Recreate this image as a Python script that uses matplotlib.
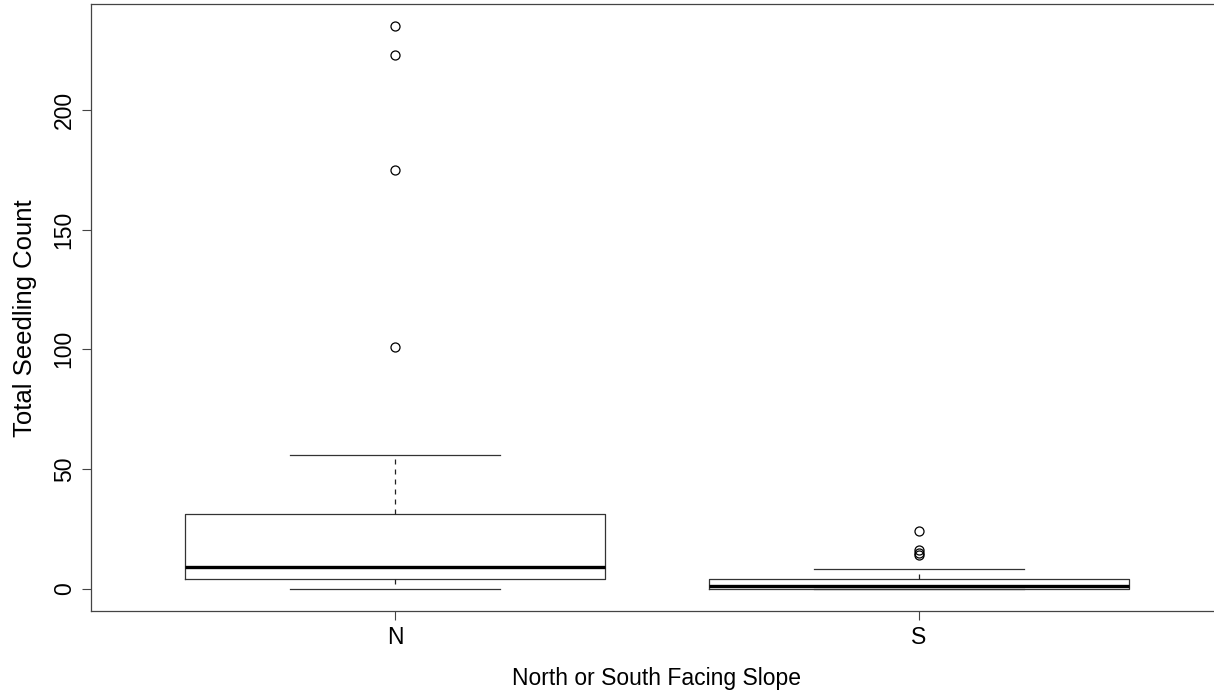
import matplotlib
matplotlib.use("Agg")
import matplotlib.pyplot as plt

plt.rcParams['font.family'] = ['Liberation Sans', 'DejaVu Sans']

# values
groups = ['N', 'S']
whislo = [0, 0]
q1 = [4, 0]
medians = [9, 1]
q3 = [31, 4]
whishi = [56, 8]
fliers = [[101, 175, 223, 235], [14, 15, 16, 24]]
yticks = [0, 50, 100, 150, 200]


def main():
    fig = plt.figure(figsize=(12.14, 6.92), dpi=100)
    ax = fig.add_axes([91 / 1214, 81 / 692, 1132 / 1214, 607 / 692])

    stats = []
    for i in range(len(groups)):
        stats.append({'label': groups[i], 'whislo': whislo[i], 'q1': q1[i],
                      'med': medians[i], 'q3': q3[i], 'whishi': whishi[i],
                      'fliers': fliers[i]})

    line = dict(color='#333333', linewidth=0.9)
    ax.bxp(stats, positions=[1, 2], widths=0.8, showfliers=True,
           boxprops=line,
           whiskerprops=dict(color='#222222', linewidth=0.9, linestyle=(0, (4, 4))),
           capprops=line,
           medianprops=dict(color='black', linewidth=2.4, solid_capstyle='butt'),
           flierprops=dict(marker='o', markerfacecolor='none', markeredgecolor='black',
                           markersize=6.5, markeredgewidth=0.9, linestyle='none'))

    ax.set_xlim(0.42, 2.58)
    ax.set_ylim(-9.4, 244.4)
    ax.set_xticks([1, 2])
    ax.set_xticklabels(groups, fontsize=16.5)
    ax.set_yticks(yticks)
    ax.set_yticklabels([str(t) for t in yticks], fontsize=16.5, rotation=90, va='center')
    ax.tick_params(direction='out', length=6.5, width=0.8, color='#444444', pad=4.5)
    for s in ax.spines.values():
        s.set_color('#444444')
        s.set_linewidth(0.9)

    ax.set_xlabel("North or South Facing Slope", fontsize=16.5, labelpad=13)
    ax.set_ylabel("Total Seedling Count", fontsize=18.5, labelpad=11)
    ax.yaxis.label.set_y(0.483)

    fig.savefig("out.png", dpi=100)


if __name__ == "__main__":
    main()
